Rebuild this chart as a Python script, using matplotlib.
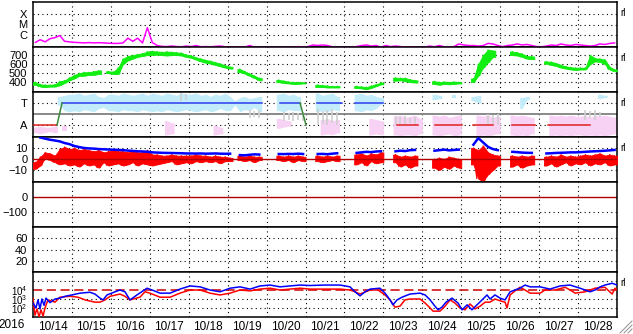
import numpy as np
import matplotlib
matplotlib.use('Agg')
import matplotlib.pyplot as plt
from matplotlib.lines import Line2D

plt.rcParams['font.family'] = ['Liberation Sans', 'DejaVu Sans']
plt.rcParams['mathtext.fontset'] = 'custom'
plt.rcParams['mathtext.rm'] = 'Liberation Sans'
plt.rcParams['mathtext.it'] = 'Liberation Sans'

nan = np.nan

# ---------------- data ----------------
year_label = '2016'
day_labels = ['10/14', '10/15', '10/16', '10/17', '10/18', '10/19', '10/20', '10/21',
              '10/22', '10/23', '10/24', '10/25', '10/26', '10/27', '10/28']
bin_hours = 3.0   # each value below covers 3 hours, starting 10/14 00:00

# X-ray flux, log10 (W/m2)
xray_log = [-6.7, -6.45, -6.65, -6.35, -6.25, -6.05, -6.6, -6.65,
            -6.7, -6.72, -6.75, -6.72, -6.75, -6.73, -6.75, -6.78,
            -6.8, -6.8, -6.75, -6.3, -6.6, -6.3, -6.75, -5.3,
            -6.7, -7.0, -7.08, -7.1, -7.05, -7.1, -7.12, -7.05,
            -7.1, -7.0, -7.12, -7.1, -7.12, -7.08, -7.05, -7.12,
            -7.15, -7.15, -7.12, -7.15, -7.0, -7.15, -7.15, -7.15,
            -7.15, -7.15, -7.15, -7.15, -7.15, -7.15, -7.1, -7.15,
            -7.1, -6.95, -7.0, -6.95, -7.0, -7.12, -7.15, -7.15,
            -7.15, -7.15, -7.1, -7.0, -6.95, -7.05, -7.0, -7.15,
            -7.0, -7.1, -7.05, -7.1, -7.15, -7.12, -7.15, -7.15,
            -7.15, -7.05, -7.12, -7.0, -7.12, -7.15, -7.1, -6.85,
            -6.95, -7.0, -7.0, -7.05, -7.0, -6.8, -6.85, -7.0,
            -7.1, -7.0, -6.95, -6.85, -6.95, -6.9, -7.0, -7.1,
            -7.12, -7.05, -6.95, -7.0, -6.85, -6.95, -7.0, -6.9,
            -6.95, -7.0, -7.05, -7.0, -6.85, -6.9, -6.8, -6.75]
xray_ticks = [-4, -5, -6]
xray_tick_labels = ['X', 'M', 'C']

# Solar wind speed (km/s), range within each bin
speed_lo = [370, 350, 345, 350, 350, 365, 390, 420,
            440, 470, 470, 480, 480, 490, nan, 500,
            490, 490, 600, 640, 660, 680, 690, 700,
            700, 705, 700, 695, 700, 700, 695, 680,
            670, 650, 630, 615, 605, 590, 575, 560,
            550, nan, 510, 495, 470, 445, 420, nan,
            nan, nan, 400, 390, 385, 380, 380, 385,
            nan, nan, 345, 345, 340, 340, 340, nan,
            nan, nan, 335, 330, 320, 335, 355, 375,
            nan, nan, 415, 420, 410, 400, 395, nan,
            nan, nan, 380, 370, 380, 375, 380, 385,
            nan, nan, 400, 470, 560, 620, 680, nan,
            nan, nan, 700, 695, 680, 660, 655, nan,
            nan, 605, 590, 580, 560, 550, 540, 535,
            540, 540, 600, 630, 625, 600, 540, 520]
speed_hi = [400, 375, 370, 370, 375, 410, 420, 450,
            480, 500, 510, 510, 520, 530, nan, 520,
            515, 560, 660, 690, 700, 710, 720, 740,
            745, 740, 735, 740, 735, 730, 725, 705,
            695, 675, 660, 645, 635, 620, 605, 585,
            570, nan, 545, 520, 495, 470, 445, nan,
            nan, nan, 425, 415, 405, 400, 400, 395,
            nan, nan, 370, 365, 360, 355, 355, nan,
            nan, nan, 355, 350, 345, 360, 375, 395,
            nan, nan, 450, 445, 445, 430, 420, nan,
            nan, nan, 410, 400, 405, 400, 405, 400,
            nan, nan, 440, 600, 700, 760, 750, nan,
            nan, nan, 740, 730, 715, 690, 685, nan,
            nan, 630, 625, 610, 590, 575, 565, 560,
            560, 560, 700, 665, 660, 650, 570, 540]
speed_ticks = [400, 500, 600, 700]

# IMF sector (T / A) scatter ranges (T = +1, A = -1)
cyan_lo = [nan, nan, nan, nan, nan, 0.8, 0.3, 0.2,
           0.3, 0.2, 0.4, 0.3, 0.2, 0.5, 0.6, 0.3,
           0.3, 0.2, 0.4, 0.3, 0.3, 0.2, 0.4, 0.3,
           0.2, 0.3, 0.2, 0.4, 0.3, 0.2, 0.3, 0.4,
           0.3, 0.2, 0.3, 0.4, 0.2, 0.3, 0.5, 0.3,
           0.3, 0.8, 0.2, 0.4, 0.3, 0.6, 0.2, nan,
           nan, nan, 0.3, 0.2, 0.4, 0.3, 0.3, nan,
           nan, nan, 0.2, 0.3, 0.2, 0.4, 0.3, nan,
           nan, nan, 0.3, 0.2, 0.4, 0.3, 0.5, 0.9,
           nan, nan, nan, nan, nan, nan, nan, nan,
           nan, nan, 1.3, 1.4, nan, nan, 1.5, nan,
           nan, nan, 1.2, 1.0, nan, nan, nan, nan,
           nan, nan, nan, nan, 0.5, 1.3, nan, nan,
           nan, nan, nan, nan, nan, nan, nan, nan,
           nan, nan, nan, nan, 1.4, 1.5, nan, nan]
cyan_hi = [nan, nan, nan, nan, nan, 1.6, 1.7, 1.8,
           1.8, 1.9, 1.7, 1.8, 1.9, 1.6, 1.5, 1.8,
           1.8, 1.7, 1.9, 1.8, 1.7, 1.8, 1.9, 1.7,
           1.9, 1.8, 1.7, 1.9, 1.8, 1.7, 1.9, 1.8,
           1.8, 1.9, 1.7, 1.8, 1.6, 1.8, 1.7, 1.9,
           1.6, 1.2, 1.5, 1.6, 1.4, 1.5, 1.6, nan,
           nan, nan, 1.8, 1.9, 1.7, 1.8, 1.6, nan,
           nan, nan, 1.9, 1.7, 1.8, 1.9, 1.6, nan,
           nan, nan, 1.8, 1.9, 1.7, 1.8, 1.6, 1.5,
           nan, nan, nan, nan, nan, nan, nan, nan,
           nan, nan, 1.8, 1.7, nan, nan, 1.7, nan,
           nan, nan, 1.6, 1.7, nan, nan, nan, nan,
           nan, nan, nan, nan, 1.5, 1.6, nan, nan,
           nan, nan, nan, nan, nan, nan, nan, nan,
           nan, nan, nan, nan, 1.8, 1.7, nan, nan]
pink_lo = [-1.7, -1.8, -1.7, -1.6, -1.7, nan, -1.5, nan,
           nan, nan, nan, nan, nan, nan, nan, nan,
           nan, nan, nan, nan, nan, nan, nan, nan,
           nan, nan, nan, -1.9, -1.8, nan, nan, nan,
           nan, nan, nan, nan, nan, -1.9, -1.8, nan,
           nan, nan, nan, nan, nan, nan, nan, nan,
           nan, nan, -1.3, -1.2, -1.1, nan, nan, nan,
           nan, nan, nan, -1.9, -1.8, -1.9, -1.7, nan,
           nan, nan, nan, nan, nan, -1.9, -1.8, -1.9,
           nan, nan, -1.9, -2.0, -1.9, -1.9, -2.0, -1.8,
           nan, nan, -1.9, -2.0, -1.9, -1.8, -2.0, -1.9,
           nan, nan, nan, -2.0, -1.9, -2.0, -1.9, -1.8,
           nan, nan, -1.9, -2.0, -1.9, -2.0, -1.8, nan,
           nan, nan, -2.0, -1.9, -2.0, -1.9, -2.0, -1.9,
           -1.9, -2.0, -1.9, -2.0, -1.9, -2.0, -1.9, -1.8]
pink_hi = [-1.2, -1.1, -1.2, -1.2, -1.1, nan, -1.1, nan,
           nan, nan, nan, nan, nan, nan, nan, nan,
           nan, nan, nan, nan, nan, nan, nan, nan,
           nan, nan, nan, -0.6, -0.8, nan, nan, nan,
           nan, nan, nan, nan, nan, -1.0, -1.2, nan,
           nan, nan, nan, nan, nan, nan, nan, nan,
           nan, nan, -0.4, -0.5, -0.6, nan, nan, nan,
           nan, nan, nan, -0.5, -0.4, -0.6, -0.5, nan,
           nan, nan, nan, nan, nan, -0.4, -0.5, -0.6,
           nan, nan, -0.2, -0.1, -0.3, -0.2, -0.1, -0.4,
           nan, nan, -0.1, -0.2, -0.1, -0.3, -0.2, -0.1,
           nan, nan, nan, -0.1, -0.2, -0.1, -0.3, -0.2,
           nan, nan, -0.1, -0.2, -0.1, -0.2, -0.3, nan,
           nan, nan, -0.1, -0.2, -0.1, -0.2, -0.1, -0.2,
           -0.2, -0.1, -0.3, -0.1, -0.2, -0.1, -0.2, -0.3]
gray_hours = [90, 93, 132, 135, 138, 153, 156, 159, 162, 165,
              174, 177, 180, 183, 186, 222, 225, 228, 231, 234,
              279, 282, 285, 339, 342, 345, 348]
gray_lo = [1.2, 1.3, -0.4, -0.3, -0.4, -0.6, -0.5, -0.6, -0.5, -0.6,
           -1.0, -0.9, -1.0, -0.8, -1.0, -1.0, -0.9, -1.0, -0.8, -1.0,
           -1.0, -0.9, -1.0, -0.5, -0.4, -0.5, -0.3]
gray_hi = [1.9, 1.8, 0.4, 0.3, 0.4, 0.2, 0.1, 0.2, 0.1, 0.2,
           0.5, 0.3, 0.4, 0.5, 0.2, -0.2, -0.3, -0.2, -0.4, -0.3,
           0.0, -0.1, 0.0, 0.4, 0.3, 0.4, 0.2]
sector_start_h = [0, 17.9, 152.3, 175.1, 198.5, 224.4, 247.8, 271.3, 295.3, 317.5]
sector_end_h = [14.8, 141.2, 164.6, 190.5, 215.8, 237.4, 264.5, 283.6, 309.5, 343.4]
sector_value = [-1, 1, 1, 1, 1, -1, -1, -1, -1, -1]
switch_start_h = [14.8, 164.6]
switch_end_h = [17.9, 168.3]
switch_from = [-1, 1]
switch_to = [1, -1]
sector_ticks = [1, -1]
sector_tick_labels = ['T', 'A']

# IMF Bt (nT) and Bz range (nT)
bt = [nan, 19.5, 18.5, 17.5, 16.8, 16.0, 14.5, 13.5,
      11.8, 10.8, 10.0, 9.6, 9.4, 9.0, 8.8, 8.6,
      8.4, 8.2, 8.0, 7.6, 7.3, 7.0, 6.8, 6.6,
      6.0, 5.8, 5.6, 5.5, 5.4, 5.3, 5.2, 5.0,
      5.0, 4.9, 5.0, 4.8, 4.9, 5.0, 4.8, 4.7,
      4.8, nan, 3.5, 3.3, 3.8, 4.2, 4.0, nan,
      nan, nan, 4.5, 4.4, 4.6, 4.5, 4.8, 4.5,
      nan, nan, 4.5, 4.6, 4.3, 4.8, 5.2, nan,
      nan, nan, 5.5, 6.0, 6.5, 6.2, 6.8, 7.0,
      nan, nan, 7.0, 7.5, 7.2, 8.0, 8.2, nan,
      nan, nan, 7.5, 8.0, 8.5, 7.8, 8.2, 8.5,
      nan, nan, 13.0, 19.0, 15.0, 11.0, 9.0, 8.0,
      nan, nan, 6.5, 6.2, 5.8, 5.6, 5.5, nan,
      nan, 5.0, 5.2, 5.5, 5.6, 5.8, 6.0, 6.0,
      6.2, 6.5, 6.8, 7.0, 7.2, 7.5, 7.8, 8.2]
bz_lo = [-9, -6, 1, -1, -3, -5, -4, -6,
         -5, -7, -4, -6, -5, -8, -3, -6,
         -5, -4, -6, -5, -3, -6, -4, -5,
         -6, -5, -4, -3, -2, -5, -4, -3,
         -4, -2, -3, -2, -3, -2, -4, -2,
         -2, nan, -1, -2, -1, -3, -1, nan,
         nan, nan, -1, -2, -1, -3, -1, -2,
         nan, nan, -2, -3, -2, -1, -2, nan,
         nan, nan, -5, -3, -6, -2, -4, -3,
         nan, nan, -3, -7, -5, -8, -6, nan,
         nan, nan, -8, -10, -7, -9, -6, -8,
         nan, nan, -5, -18, -20, -14, -10, -6,
         nan, nan, -7, -5, -8, -6, -5, nan,
         nan, -6, -4, -7, -5, -3, -6, -4,
         -5, -3, -6, -4, -5, -3, -6, -5]
bz_hi = [-3, 2, 6, 5, 3, 9, 11, 9,
         10, 8, 9, 8, 7, 8, 6, 7,
         8, 7, 7, 6, 7, 6, 6, 8,
         4, 4, 3, 3, 4, 3, 3, 3,
         3, 4, 3, 3, 2, 3, 2, 2,
         1, nan, 3, 2, 3, 2, 2, nan,
         nan, nan, 3, 2, 3, 2, 3, 2,
         nan, nan, 3, 2, 3, 2, 3, nan,
         nan, nan, 4, 5, 3, 5, 4, 6,
         nan, nan, 4, 2, 3, 2, 3, nan,
         nan, nan, 0, 1, 0, 2, 1, 0,
         nan, nan, 10, 8, 12, 6, 4, 3,
         nan, nan, 3, 2, 3, 2, 3, nan,
         nan, 2, 3, 2, 4, 2, 3, 2,
         3, 4, 3, 4, 5, 3, 4, 3]
imf_ticks = [10, 0, -10]

dst_ticks = [0, -100]
kp_ticks = [60, 40, 20]

# Energetic electron fluxes, log10 (irregular times, hours from 10/14 00:00)
blue_h = [0, 1.8, 3.1, 4.3, 5.5, 6.8, 8.0, 10.5, 13.6, 16.6, 19.7, 24.0, 29.0, 35.1, 38.2,
          41.3, 43.2, 45.6, 50.6, 53.6, 56.7, 59.8, 64.1, 67.8, 70.3, 73.4, 78.3, 84.5,
          90.6, 96.8, 103.0, 109.1, 115.3, 121.5, 127.6, 133.8, 139.9, 146.1, 152.3,
          158.4, 164.6, 170.8, 180.0, 189.3, 195.4, 198.5, 201.6, 204.7, 207.8, 213.9,
          217.0, 220.1, 221.9, 224.4, 227.5, 232.4, 238.6, 241.7, 244.8, 247.8, 249.7,
          252.1, 254.6, 258.3, 262.0, 264.5, 267.6, 270.6, 273.7, 276.8, 279.9, 281.7,
          284.8, 287.9, 291.0, 294.1, 297.1, 300.2, 303.3, 306.4, 312.6, 318.7, 324.9,
          331.1, 337.2, 343.4, 346.5, 349.6, 352.6, 357.0, 360.0]
blue_log = [2.55, 2.0, 2.9, 1.9, 3.0, 2.3, 3.1, 2.6, 3.0, 3.1, 3.3, 3.45, 3.65, 3.75, 3.55,
            3.1, 2.9, 3.45, 3.8, 4.0, 3.8, 2.9, 3.45, 3.9, 4.2, 4.0, 3.65, 3.65,
            4.1, 4.45, 4.35, 4.0, 3.8, 4.2, 4.35, 4.1, 4.45, 4.55, 4.35,
            4.45, 4.55, 4.5, 4.55, 4.55, 4.35, 3.8, 3.35, 3.8, 4.1, 4.2,
            3.65, 2.9, 2.35, 2.9, 3.2, 3.55, 3.65, 3.45, 2.9, 2.2, 1.8,
            2.1, 2.65, 3.1, 2.55, 1.8, 2.35, 1.8, 2.35, 2.9, 3.45, 3.0,
            3.45, 3.1, 2.9, 3.8, 4.0, 4.2, 4.55, 4.35, 4.35, 4.1, 4.45,
            4.55, 4.2, 3.8, 4.0, 4.35, 4.55, 4.75, 4.55]
red_h = [0, 1.2, 2.5, 3.7, 4.9, 6.2, 7.4, 9.2, 13.6, 16.6, 22.8, 27.7, 32.1, 38.2, 41.3,
         44.4, 47.5, 53.6, 56.7, 59.8, 65.9, 69.0, 72.1, 78.3, 84.5, 90.6, 96.8, 103.0,
         109.1, 115.3, 121.5, 127.6, 133.8, 139.9, 146.1, 152.3, 158.4, 164.6, 170.8,
         180.0, 189.3, 195.4, 198.5, 201.6, 207.8, 212.7, 217.0, 220.1, 223.1, 226.2,
         229.3, 232.4, 238.6, 241.7, 244.8, 246.6, 250.9, 254.0, 257.1, 260.1, 263.2,
         266.3, 269.4, 272.5, 275.6, 278.7, 281.7, 284.8, 287.9, 291.0, 292.2, 294.1,
         297.1, 300.2, 303.3, 306.4, 312.6, 315.7, 321.8, 328.0, 331.1, 334.2, 340.3,
         346.5, 352.6, 357.0, 358.8, 360.0]
red_log = [3.1, 1.2, 1.9, 1.0, 1.8, 1.1, 2.0, 2.9, 2.65, 3.2, 3.3, 3.2, 2.9, 2.65, 2.65,
           2.9, 3.3, 3.55, 3.3, 2.9, 3.2, 3.8, 3.65, 3.2, 3.2, 3.65, 4.0, 4.0,
           3.65, 3.45, 3.65, 4.0, 3.9, 4.1, 4.2, 4.0, 4.1, 4.2, 4.1,
           4.1, 4.1, 4.0, 3.8, 3.55, 4.0, 4.0, 3.45, 2.9, 2.1, 2.2,
           2.9, 3.0, 3.0, 2.55, 2.0, 1.65, 1.65, 2.2, 2.9, 2.55, 2.0,
           1.8, 2.45, 1.9, 2.2, 2.65, 2.65, 3.0, 2.8, 2.65, 2.0, 3.45,
           3.9, 4.3, 4.0, 3.65, 3.65, 4.0, 4.0, 4.3, 4.0, 3.65, 3.8,
           4.2, 4.3, 3.55, 4.2, 4.0]
flux_ticks = [2, 3, 4]
flux_threshold = 4

# ---------------- figure ----------------
W, H = 633, 334
fig = plt.figure(figsize=(W / 100, H / 100), dpi=100)
fig.patch.set_facecolor('white')

left_px, right_px = 33, 617
tops_px = [2, 47, 92, 137, 182, 227, 272]
panel_h = 45
axes = []
for top in tops_px:
    ax = fig.add_axes([left_px / W, 1 - (top + panel_h) / H,
                       (right_px - left_px) / W, panel_h / H])
    axes.append(ax)

n = len(xray_log)
t0 = np.arange(n) * bin_hours
tc = t0 + bin_hours / 2


def band(ax, lo, hi, color, z, edge=0.0, jag=0.0):
    lo = np.asarray(lo, float)
    hi = np.asarray(hi, float)
    ok = np.isfinite(lo) & np.isfinite(hi)
    idx = np.where(ok)[0]
    if len(idx) == 0:
        return
    runs = np.split(idx, np.where(np.diff(idx) > 1)[0] + 1)
    for r in runs:
        tt = np.concatenate([[t0[r[0]]], tc[r], [t0[r[-1]] + bin_hours]])
        ll = np.concatenate([[lo[r[0]]], lo[r], [lo[r[-1]]]])
        hh = np.concatenate([[hi[r[0]]], hi[r], [hi[r[-1]]]])
        ax.fill_between(tt, ll, hh, color=color, lw=edge,
                        edgecolor=color, zorder=z)
        if jag > 0:
            # alternate each bin's low and high reading to show the spiky spread
            zt = np.column_stack([t0[r] + bin_hours * 0.2, t0[r] + bin_hours * 0.5,
                                  t0[r] + bin_hours * 0.8]).ravel()
            zv = np.column_stack([lo[r], hi[r], lo[r]]).ravel()
            ax.plot(zt, zv, color=color, lw=jag, zorder=z)


dot = dict(color='black', lw=0.8, linestyle=(0, (1, 3)), zorder=0.5)
for ax in axes:
    ax.set_xlim(0, 360)
    for k in range(1, 15):
        ax.axvline(24 * k, **dot)
    for s in ax.spines.values():
        s.set_color('black')
        s.set_linewidth(1.1)
    ax.tick_params(axis='both', length=0, pad=4, labelsize=8)
    ax.set_xticks([])

# Panel 1: X-ray
ax = axes[0]
ax.set_yscale('log')
ax.set_ylim(10 ** -7.14, 10 ** -2.86)
ax.plot(tc, 10 ** np.array(xray_log), color='#ff00ff', lw=1.1, zorder=3)
ax.set_yticks([10.0 ** v for v in xray_ticks])
ax.set_yticklabels(xray_tick_labels)
ax.minorticks_off()
for v in xray_ticks:
    ax.axhline(10.0 ** v, **dot)

# Panel 2: speed
ax = axes[1]
ax.set_ylim(290, 790)
band(ax, speed_lo, speed_hi, '#11ee11', 3, edge=0.6, jag=0.8)
ax.set_yticks(speed_ticks)
for v in speed_ticks:
    ax.axhline(v, **dot)

# Panel 3: sector
ax = axes[2]
ax.set_ylim(-2.09, 2.0)
ax.axhline(0, color='#808080', lw=1.3, zorder=1)
band(ax, cyan_lo, cyan_hi, '#c2ecf9', 2)
band(ax, pink_lo, pink_hi, '#f8d2f5', 2)
ax.vlines(np.array(gray_hours) + bin_hours / 2, gray_lo, gray_hi, colors='#cfcfcf', lw=1.2, zorder=2.5)
for a, b, val in zip(sector_start_h, sector_end_h, sector_value):
    ax.plot([a, b], [val, val], color='#2b3cf0' if val > 0 else '#e02020', lw=1.1, zorder=4)
for a, b, v0, v1 in zip(switch_start_h, switch_end_h, switch_from, switch_to):
    ax.plot([a, b], [v0, v1], color='#3a8a3a', lw=1.1, zorder=4)
ax.set_yticks(sector_ticks)
ax.set_yticklabels(sector_tick_labels)
for v in sector_ticks:
    ax.axhline(v, **dot)

# Panel 4: IMF
ax = axes[3]
ax.set_ylim(-21, 20)
for v in imf_ticks:
    if v != 0:
        ax.axhline(v, **dot)
band(ax, bz_lo, bz_hi, '#ff0000', 3, edge=0.6, jag=0.8)
ax.axhline(0, color='#b00000', lw=1.0, zorder=3.5)
ax.plot(tc, bt, color='#0000ff', lw=1.8, zorder=4)
ax.set_yticks(imf_ticks)

# Panel 5: Dst
ax = axes[4]
ax.set_ylim(-200, 100)
ax.axhline(-100, **dot)
ax.axhline(0, color='#b00000', lw=1.0, zorder=2)
ax.set_yticks(dst_ticks)

# Panel 6
ax = axes[5]
ax.set_ylim(0, 80)
for v in kp_ticks:
    ax.axhline(v, **dot)
ax.set_yticks(kp_ticks)

# Panel 7: particle flux
ax = axes[6]
ax.set_yscale('log')
ax.set_ylim(1e1, 1e6)
for v in [2, 3, 5]:
    ax.axhline(10.0 ** v, **dot)
ax.axhline(10.0 ** flux_threshold, color='#cc0000', lw=1.1,
           linestyle=(0, (6, 3)), zorder=2)
ax.plot(red_h, 10 ** np.array(red_log), color='#ff0000', lw=1.1, zorder=3)
ax.plot(blue_h, 10 ** np.array(blue_log), color='#0000ff', lw=1.1, zorder=4)
ax.set_yticks([10.0 ** v for v in flux_ticks])
ax.set_yticklabels([r'$\mathregular{10^{%d}}$' % v for v in flux_ticks], fontsize=7)
ax.minorticks_off()
ax.set_xticks([12 + 24 * k for k in range(len(day_labels))])
ax.set_xticklabels(day_labels, fontsize=8.5)
ax.tick_params(axis='x', length=0, pad=3)

fig.text(12 / W, 1 - 325 / H, year_label, ha='center', va='center', fontsize=8.5)

for i in [0, 1, 2, 3, 6]:
    fig.text(620 / W, 1 - (tops_px[i] + 11) / H, 'rl', ha='left', va='center', fontsize=7)

# resize grip
for d in [4, 8, 12]:
    fig.add_artist(Line2D([(W - 1 - d) / W, (W - 1) / W], [1 / H, (1 + d) / H],
                          color='#909090', lw=0.7, transform=fig.transFigure))

fig.savefig('out.png', dpi=100, facecolor='white')
